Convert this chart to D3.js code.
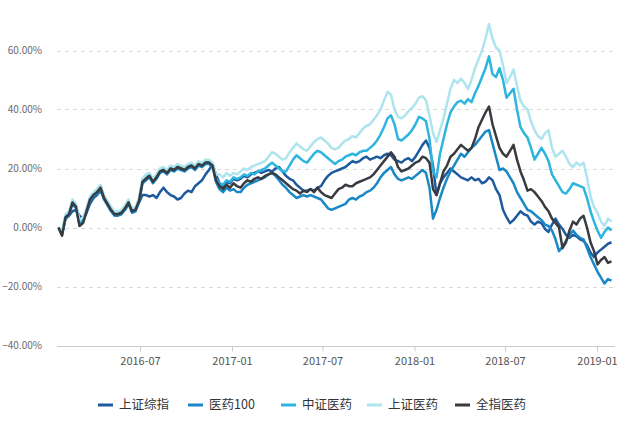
<!DOCTYPE html>
<html>
<head>
<meta charset="utf-8">
<script src="https://cdn.jsdelivr.net/npm/d3@7"></script>
<style>
  html, body { margin: 0; padding: 0; background: #fff; }
  svg { display: block; }
  text { font-family: "Noto Sans CJK SC", "Noto Sans", sans-serif; }
</style>
</head>
<body>
<svg id="chart" width="640" height="423"></svg>
<script>
// ---------- data ----------
const seriesNames = ["上证综指", "医药100", "中证医药", "上证医药", "全指医药"];
const seriesColors = ["#1d5a9e", "#1a88c6", "#2db5df", "#aee4ee", "#383b40"];
const startDate = "2016-01-20";   // weekly observations
const xTickLabels = ["2016-07", "2017-01", "2017-07", "2018-01", "2018-07", "2019-01"];
const yTickValues = [60, 40, 20, 0, -20, -40];

const shIndex = [0, -2, 3, 4, 5.5, 6, 4, 3, 5, 8, 10, 11, 12.5, 10, 8, 6.5, 5, 5, 5.5, 6, 8, 6, 6.5, 8.5, 11, 11,
  10.5, 11, 10, 12, 13.5, 12, 11, 10.5, 9.5, 10, 11.5, 12.5, 12, 14, 15, 16, 18, 19.5, 21.5, 18,
  15, 14, 15.5, 15, 16.5, 16, 16.5, 17.5, 17, 18, 18.5, 19, 18.5, 19, 19.5, 19, 20, 20.5, 19, 17.5,
  16.5, 16, 14.5, 13.5, 12.5, 12.5, 13, 12.5, 13.5, 14, 16, 17.5, 18.5, 19, 19.5,
  20, 20.5, 21.5, 22.5, 22, 22.5, 23.5, 24, 23, 23.5, 24, 23.5, 24.5, 25, 24.5, 23, 22.5, 22, 23, 23.5,
  22.5, 24, 26, 28, 29.5, 27, 21, 11, 15, 17,
  18.5, 20, 19, 18, 17, 16.5, 16, 17, 16, 16.5, 15, 15.5, 17, 16, 13, 11, 6, 3.5, 1.5, 2.5,
  4, 5.5, 4.5, 4, 2, 1, 2, 1.5, -0.5, -1.5, 1, 3, 1, -0.5, -2.5, -3.5, -2.5, -3, -4, -4.5,
  -6, -8.5, -10, -8.5, -7.5, -6.5, -5.5, -5];

const pharma100 = [0, -2.5, 3, 4, 8, 6.5, 1, 2, 5, 9, 10.5, 11.5, 13, 9.5, 7.5, 5.5, 4, 4, 4.5, 6, 8, 5, 5.5, 8.5, 15, 16,
  17, 15, 16.5, 18.5, 19, 18, 19.5, 19, 20, 19.5, 19, 20, 20.5, 19.5, 21, 20.5, 21.5, 21.5, 20.5, 15.5,
  13, 12, 13.5, 12.5, 13, 12, 12, 13.5, 14.5, 15, 15.5, 16, 16.5, 17, 18, 18.5, 17.5, 16, 14.5, 13.5,
  12, 11, 10, 10.5, 11, 10.5, 11, 10.5, 10, 9.5, 8, 6.5, 6, 6.5, 7,
  7.5, 8, 9.5, 10, 9.5, 10.5, 11, 12, 12.5, 13.5, 15, 17, 18.5, 19.5, 20.5, 18, 16.5, 16, 16.5, 17,
  16.5, 17.5, 18.5, 19.5, 18.5, 13.5, 3, 6, 10, 13.5,
  16.5, 19, 21, 23, 25, 24, 25.5, 27, 28, 29.5, 31, 32.5, 33, 28.5, 24, 19.5, 20, 19, 17, 15,
  12, 10, 8, 6, 5.5, 4.5, 3.5, 2.5, 1, 0.5, -1, -4, -8, -6.5, -4.5, -2.5, -1, -2.5, -3.5, -4,
  -7, -10, -12.5, -15, -17, -19, -17.5, -18];

const csiPharma = [0, -2, 4, 5, 9, 7.5, 1.5, 3, 6, 10, 11.5, 12.5, 14, 10.5, 8.5, 6.5, 5, 5, 5.5, 7, 9, 6, 6.5, 9.5, 16, 17.5,
  18, 16, 17.5, 19.5, 20, 19, 20.5, 20, 21, 20.5, 20, 21, 21.5, 20.5, 22, 21.5, 22.5, 22.5, 21.5, 16.5,
  15, 14.5, 16, 15.5, 17, 16.5, 17, 18, 17.5, 18.5, 18, 19, 19.5, 20, 21, 22, 21, 20, 19, 19,
  21, 23, 24.5, 23.5, 22.5, 22, 23.5, 25, 26, 25.5, 24.5, 23.5, 22.5, 21.5, 22.5,
  23, 24, 24.5, 25, 24.5, 25.5, 26, 26, 27, 28, 29.5, 31.5, 34, 37, 38, 35, 30, 29.5, 30.5, 31.5,
  33, 35, 37.5, 37, 36, 30, 19, 17, 25, 30,
  35, 39, 41, 42.5, 43, 42, 43.5, 42.5, 45.5, 48, 51, 54, 58, 52, 51, 54, 50, 44, 45.5, 47,
  40, 34, 32, 30.5, 27, 23, 25, 27, 25, 22.5, 18, 16, 14, 12, 11.5, 13, 15, 14.5, 14, 13.5,
  10, 5.5, 2, -1, -3.5, -1.5, 0, -1];

const ssePharma = [0, -1.5, 4.5, 5.5, 9.5, 8, 2.5, 3.5, 6.5, 10.5, 12, 13, 14.5, 11, 9, 7, 5.5, 5.5, 6, 7.5, 9.5, 6.5, 7, 10, 16.5, 18,
  18.5, 16.5, 18, 20, 20.5, 19.5, 21, 20.5, 21.5, 21, 20.5, 21.5, 22, 21, 22.5, 22, 23, 23, 22, 18,
  18, 17, 18.5, 17.5, 18.5, 18, 19, 20, 19.5, 20.5, 21, 21.5, 22, 22.5, 24, 25.5, 25, 24, 23, 23.5,
  25.5, 27, 28.5, 27.5, 26.5, 26, 27.5, 29, 30, 30.5, 29.5, 28.5, 27, 26.5, 27,
  28.5, 29.5, 30, 31, 30.5, 32, 33.5, 34.5, 35, 36.5, 38, 40, 43, 46, 45, 40, 37.5, 37, 38, 39.5,
  40.5, 42, 44, 44.5, 43, 38, 32, 29, 33, 37,
  42, 47, 50, 49, 50.5, 49, 47, 50, 54, 57, 60, 64, 69, 64, 61, 60, 55, 49, 51, 53.5,
  48, 43, 41, 40, 36, 33, 31, 30, 32, 33, 27, 24, 25, 26, 24, 21.5, 20.5, 22, 21, 22,
  17, 10.5, 7, 5, 2, 0.5, 3, 2];

const allPharma = [0, -2.8, 3.5, 4.5, 8.5, 7, 0.5, 1.5, 5.5, 9.5, 11, 12, 13.5, 10, 8, 6, 4.5, 4.5, 5, 6.5, 8.5, 5.5, 6, 9, 15.5, 16.5,
  17.5, 15.5, 17, 19, 19.5, 18.5, 20, 19.5, 20.5, 20, 19.5, 20.5, 21, 20, 21.5, 21, 22, 22, 21, 16,
  14, 13, 14.5, 13.5, 15, 14, 13.5, 15, 16, 15.5, 16.5, 17, 16.5, 17.5, 18, 18.5, 18, 17, 16, 15,
  14, 13, 12.5, 11.5, 12.5, 12, 13, 12, 13.5, 12, 11, 10.5, 10, 11.5, 13,
  13.5, 14.5, 14, 14, 15, 15.5, 16, 16.5, 17, 18, 19.5, 21, 22.5, 24, 25.5, 24, 20.5, 19, 19.5, 20,
  21, 22, 22.5, 24, 23.5, 22, 13, 11, 15, 19,
  21, 24, 25, 26.5, 28, 27, 26, 27, 30, 34, 36.5, 39, 41, 35, 31, 27, 25, 24, 26, 28,
  23, 19, 16, 12.5, 13, 12, 10.5, 9, 7, 5.5, 3, 1.5, 0, -7, -5, -1, 2, 1, 3, 4,
  0, -5, -8, -12.5, -11, -10, -12, -11.5];

const seriesValues = [shIndex, pharma100, csiPharma, ssePharma, allPharma];

// ---------- build ----------
const parse = d3.timeParse("%Y-%m-%d");
const parseTick = d3.timeParse("%Y-%m");
const n = d3.max(seriesValues, s => s.length);
const dates = d3.range(n).map(i => d3.timeDay.offset(parse(startDate), 7 * i));

const svg = d3.select("#chart");
svg.append("rect").attr("width", 640).attr("height", 423).attr("fill", "#fff");

const x = d3.scaleTime()
  .domain([parse(startDate), parse("2019-01-30")])
  .range([58.5, 611.5]);
const y = d3.scaleLinear().domain([-40, 60]).range([345.5, 50.5]);

// grid
const gridG = svg.append("g");
gridG.selectAll("line").data(yTickValues.filter(v => v !== -40)).join("line")
  .attr("x1", 57).attr("x2", 614)
  .attr("y1", d => Math.round(y(d)) + 0.5).attr("y2", d => Math.round(y(d)) + 0.5)
  .attr("stroke", "#d9d9d9").attr("stroke-dasharray", "4,4").attr("stroke-width", 1);

// y labels
const fmt = d3.format(".2f");
svg.append("g").selectAll("text").data(yTickValues).join("text")
  .attr("x", 42).attr("y", d => y(d)).attr("dy", "0.35em")
  .attr("text-anchor", "end").attr("font-size", 10).attr("fill", "#6b6b6b")
  .text(d => fmt(d) + "%");

// x axis
const xAxis = d3.axisBottom(x)
  .tickValues(xTickLabels.map(parseTick))
  .tickFormat(d3.timeFormat("%Y-%m"))
  .tickSize(5).tickPadding(6);
const xg = svg.append("g").attr("transform", `translate(0,${Math.round(y(-40)) + 0.5})`).call(xAxis);
xg.select(".domain").remove();
xg.selectAll(".tick line").attr("stroke", "#cccccc");
xg.selectAll(".tick text").attr("font-size", 11).attr("fill", "#555")
  .attr("font-family", "\"Noto Sans CJK SC\", sans-serif");
svg.append("line").attr("x1", 57).attr("x2", 615)
  .attr("y1", Math.round(y(-40)) + 0.5).attr("y2", Math.round(y(-40)) + 0.5)
  .attr("stroke", "#cccccc");

// lines
const line = d3.line().x((d, i) => x(dates[i])).y(d => y(d));
svg.append("g").selectAll("path").data(seriesValues).join("path")
  .attr("d", d => line(d))
  .attr("fill", "none")
  .attr("stroke", (d, i) => seriesColors[i])
  .attr("stroke-width", 2.5)
  .attr("stroke-linejoin", "round");

// legend
const legendX = [98, 188, 281, 367, 455];
const lg = svg.append("g").selectAll("g").data(seriesNames).join("g")
  .attr("transform", (d, i) => `translate(${legendX[i]},405)`);
lg.append("line").attr("x1", 0).attr("x2", 15).attr("y1", 0).attr("y2", 0)
  .attr("stroke", (d, i) => seriesColors[i]).attr("stroke-width", 3);
lg.append("text").attr("x", 21).attr("y", 0).attr("dy", "0.35em")
  .attr("font-size", 12.5).attr("fill", "#333").text(d => d);
</script>
</body>
</html>
